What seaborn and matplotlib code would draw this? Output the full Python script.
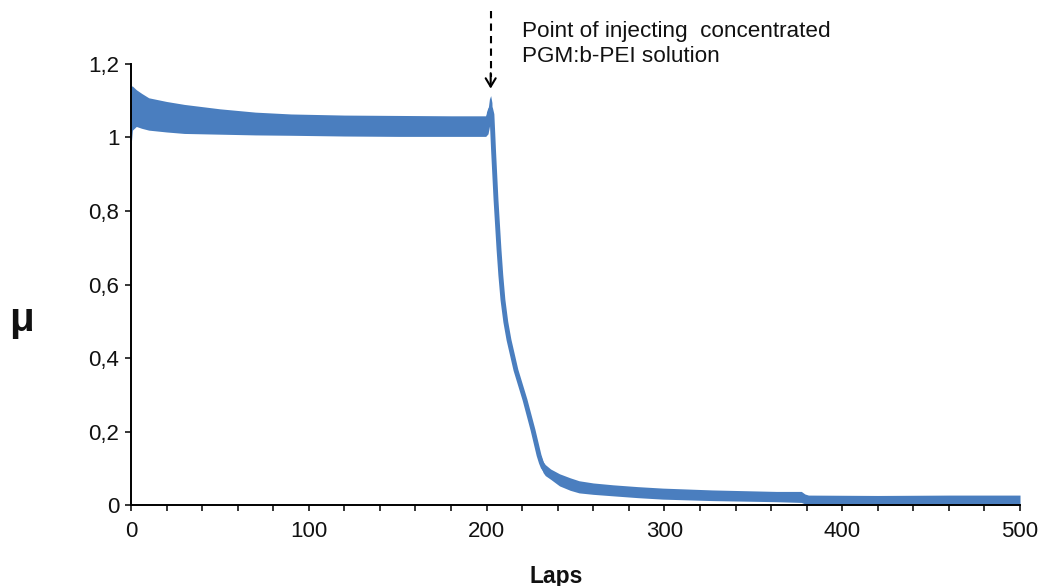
import matplotlib
matplotlib.use("Agg")
import matplotlib.pyplot as plt
from matplotlib.ticker import MultipleLocator, FixedLocator, FixedFormatter
import numpy as np
import pandas as pd
import seaborn as sns

# Friction coefficient vs. laps: upper and lower edges of the oscillating trace
laps = [0, 0.8, 3, 6, 10, 20, 30, 50, 70, 90, 120, 150, 180, 199.5, 200.8,
        201.6, 202.3, 203.0, 203.5, 203.9, 205.3, 207.0, 208.0, 209.2, 210.8,
        212.6, 216.5, 221.6, 226.1, 229.5, 230.8, 231.8, 233, 236, 241, 247,
        252, 260, 271, 285, 299, 327, 363, 377, 379, 381, 420, 460, 500]
mu_high = [1.14, 1.14, 1.13, 1.12, 1.108, 1.098, 1.09, 1.078, 1.069, 1.064,
           1.061, 1.060, 1.059, 1.059, 1.075, 1.105, 1.114, 1.095, 1.01, 0.966,
           0.83, 0.694, 0.625, 0.558, 0.498, 0.449, 0.367, 0.286, 0.204, 0.145,
           0.13, 0.118, 0.11, 0.098, 0.085, 0.074, 0.066, 0.060, 0.055, 0.050,
           0.046, 0.041, 0.037, 0.037, 0.03, 0.027, 0.026, 0.027, 0.027]
mu_low = [0.975, 1.02, 1.03, 1.025, 1.02, 1.015, 1.011, 1.009, 1.007, 1.006,
          1.004, 1.003, 1.003, 1.003, 1.010, 1.030, 1.040, 1.030, 1.01, 0.966,
          0.83, 0.694, 0.625, 0.558, 0.498, 0.449, 0.367, 0.286, 0.204, 0.125,
          0.10, 0.088, 0.08, 0.07, 0.052, 0.04, 0.033, 0.029, 0.025, 0.02,
          0.016, 0.012, 0.009, 0.007, 0.003, 0.002, 0.002, 0.002, 0.002]

y_ticks = [0, 0.2, 0.4, 0.6, 0.8, 1.0, 1.2]
y_tick_labels = ["0", "0,2", "0,4", "0,6", "0,8", "1", "1,2"]
x_ticks = [0, 100, 200, 300, 400, 500]

injection_lap = 202.3
note = "Point of injecting  concentrated\nPGM:b-PEI solution"

BLUE = "#4A7EBF"

sns.set_theme(style="ticks")
plt.rcParams["font.family"] = ["Liberation Sans", "DejaVu Sans"]

fig = plt.figure(figsize=(10.42, 5.86), dpi=100)
ax = fig.add_axes([0.1257, 0.1382, 0.8532, 0.7526])

df = pd.DataFrame({"Laps": laps, "high": mu_high, "low": mu_low})
df["mid"] = (df["high"] + df["low"]) / 2

ax.fill_between(df["Laps"], df["low"], df["high"], color=BLUE, lw=0)
sns.lineplot(data=df, x="Laps", y="mid", color=BLUE, lw=3.5, ax=ax)

ax.set_xlim(0, 500)
ax.set_ylim(0, 1.2)

ax.xaxis.set_major_locator(FixedLocator(x_ticks))
ax.xaxis.set_minor_locator(MultipleLocator(20))
ax.yaxis.set_major_locator(FixedLocator(y_ticks))
ax.yaxis.set_major_formatter(FixedFormatter(y_tick_labels))

for side in ("top", "right"):
    ax.spines[side].set_visible(False)
for side in ("left", "bottom"):
    ax.spines[side].set_color("black")
    ax.spines[side].set_linewidth(1.4)

ax.tick_params(axis="both", which="both", direction="out", length=4.3,
               width=1.1, color="black", labelsize=16, labelcolor="#111111")
ax.tick_params(axis="x", which="major", pad=7)
ax.tick_params(axis="y", which="major", pad=4)

ax.set_xlabel("Laps", fontsize=16.5, fontweight="bold", color="#111111")
ax.xaxis.set_label_coords(0.478, -0.136)
ax.set_ylabel("μ", fontsize=29, fontweight="bold", rotation=0,
              color="#111111", va="center", ha="center")
ax.yaxis.set_label_coords(-0.1226, 0.42)

# Injection marker: dashed stem with an open arrowhead
ax.plot([injection_lap, injection_lap], [1.345, 1.165], color="black",
        lw=1.5, ls=(0, (3.5, 2.5)), clip_on=False)
ax.annotate("", xy=(injection_lap, 1.133), xytext=(injection_lap, 1.175),
            arrowprops=dict(arrowstyle="->,head_length=0.5,head_width=0.3",
                            lw=1.5, color="black", shrinkA=0, shrinkB=0),
            annotation_clip=False)
ax.text(220, 1.318, note, fontsize=16.2, color="#111111", va="top",
        ha="left", linespacing=1.25, clip_on=False)

fig.savefig("out.png", dpi=100)
